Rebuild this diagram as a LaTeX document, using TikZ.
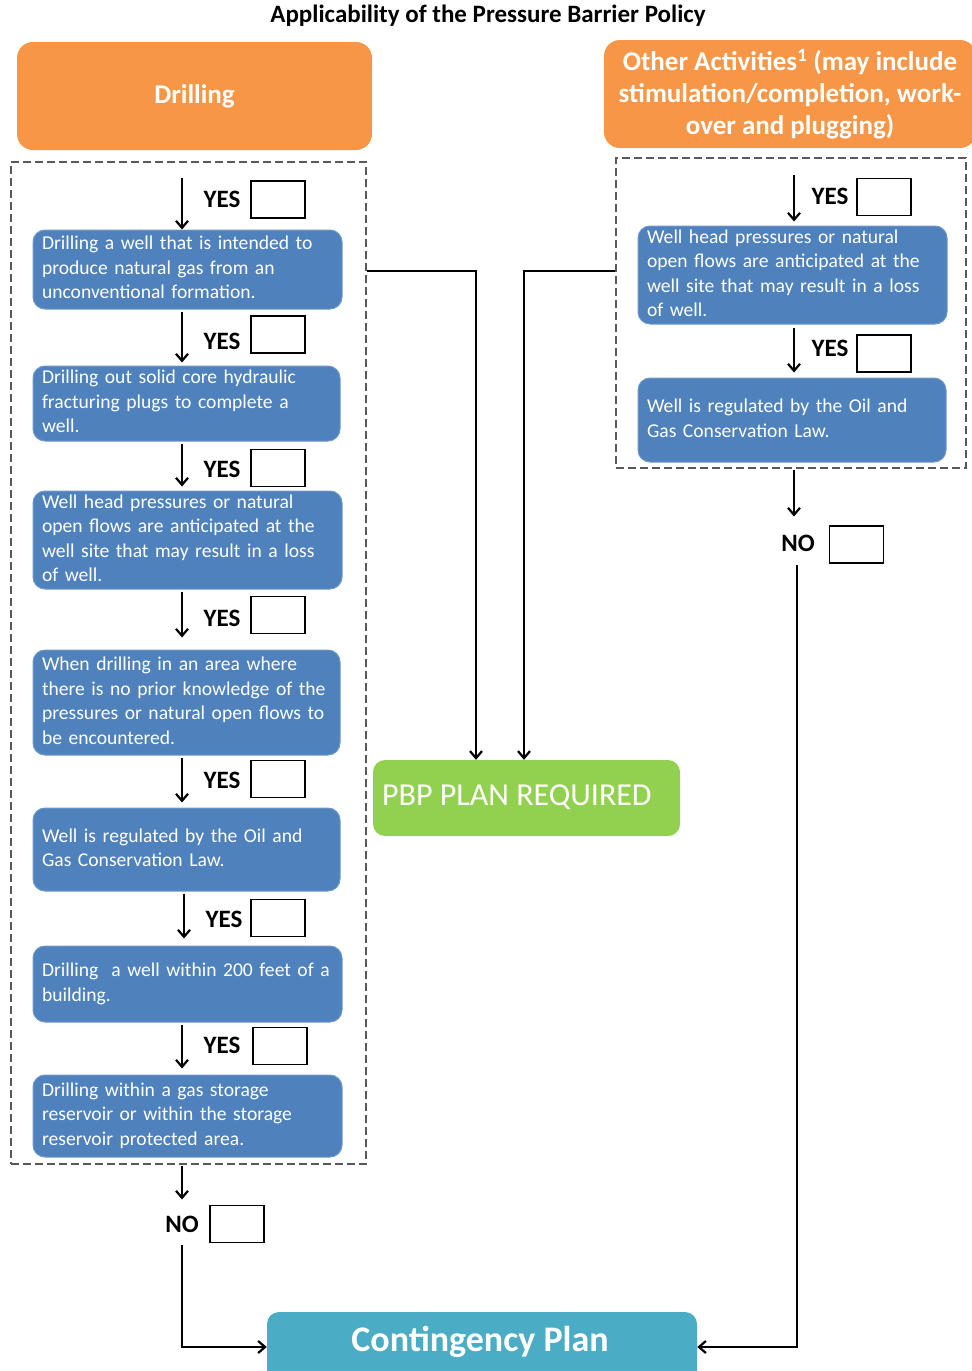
\documentclass[tikz,border=0pt]{standalone}
\usepackage{fontspec}
\setmainfont{Carlito}
\usetikzlibrary{arrows.meta}
\definecolor{orng}{HTML}{F79646}
\definecolor{bluefill}{HTML}{4F81BD}
\definecolor{blueedge}{HTML}{6E97CA}
\definecolor{grn}{HTML}{92D050}
\definecolor{teal}{HTML}{4BACC6}
\definecolor{dashgray}{HTML}{595959}
\newcommand\bxlines[1]{\begin{tabular}{@{}l@{}}#1\end{tabular}}
\begin{document}
\begin{tikzpicture}[x=1pt,y=-1pt,
  bluebox/.style={fill=bluefill, draw=blueedge, line width=1pt, rounded corners=12pt, text=white,
    font=\fontsize{19.6}{24.5}\selectfont, align=left, inner xsep=9pt, inner ysep=0pt},
  orbox/.style={fill=orng, draw=none, rounded corners=16pt, text=white, align=center,
    font=\fontsize{27}{32}\selectfont\bfseries, inner sep=0pt},
  yeslbl/.style={font=\fontsize{25}{28}\selectfont\bfseries, inner sep=0pt},
  chk/.style={draw=black, line width=1.2pt, minimum width=54pt, minimum height=37pt, inner sep=0pt},
  dashbox/.style={draw=dashgray, line width=2pt, dash pattern=on 8pt off 4pt, inner sep=0pt},
  arr/.style={line width=2.4pt, -{Straight Barb[length=7pt,width=12pt,line width=2.2pt]}},
]
\useasboundingbox (0,0) rectangle (972,1371);

% title
\node[font=\fontsize{25}{28}\selectfont\bfseries, inner sep=0pt] (title) at (488,16) {Applicability of the Pressure Barrier Policy};

% headers
\node[orbox, minimum width=355pt, minimum height=108pt] (drill) at (194.5,96) {Drilling};
\node[orbox, minimum width=372pt, minimum height=108pt] (other) at (790,94) {Other Activities\textsuperscript{1} (may include\\stimulation/completion, work-\\over and plugging)};

% dashed frames
\node[dashbox, minimum width=355pt, minimum height=1002pt] (ldash) at (188.5,663) {};
\node[dashbox, minimum width=350pt, minimum height=310pt] (rdash) at (791,313) {};

% left blue boxes
\node[bluebox, text width=291pt, minimum height=79pt] (b1) at (187.5,269.5) {\bxlines{Drilling a well that is intended to\\produce natural gas from an\\unconventional formation.}};
\node[bluebox, text width=289pt, minimum height=75pt] (b2) at (186.5,403.5) {\bxlines{Drilling out solid core hydraulic\\fracturing plugs to complete a\\well.}};
\node[bluebox, text width=291pt, minimum height=96pt] (b3) at (187.5,540) {\bxlines{Well head pressures or natural\\open flows are anticipated at the\\well site that may result in a loss\\of well.}};
\node[bluebox, text width=289pt, minimum height=105pt] (b4) at (186.5,702.5) {\bxlines{When drilling in an area where\\there is no prior knowledge of the\\pressures or natural open flows to\\be encountered.}};
\node[bluebox, text width=289pt, minimum height=83pt] (b5) at (186.5,849.5) {\bxlines{Well is regulated by the Oil and\\Gas Conservation Law.}};
\node[bluebox, text width=291pt, minimum height=76pt] (b6) at (187.5,984) {\bxlines{Drilling\ \ a well within 200 feet of a\\building.}};
\node[bluebox, text width=291pt, minimum height=82pt] (b7) at (187.5,1116) {\bxlines{Drilling within a gas storage\\reservoir or within the storage\\reservoir protected area.}};

% right blue boxes
\node[bluebox, text width=291pt, minimum height=96pt] (r1) at (792.5,275) {\bxlines{Well head pressures or natural\\open flows are anticipated at the\\well site that may result in a loss\\of well.}};
\node[bluebox, text width=290pt, minimum height=84pt] (r2) at (792,420) {\bxlines{Well is regulated by the Oil and\\Gas Conservation Law.}};

% outcome boxes
\node[fill=grn, draw=none, rounded corners=12pt, minimum width=307pt, minimum height=76pt, inner sep=0pt] (green) at (526.5,798) {};
\node[text=white, font=\fontsize{32}{36}\selectfont, anchor=west, inner sep=0pt] (greentxt) at (382,797) {PBP PLAN REQUIRED};
\node[fill=teal, draw=none, rounded corners=12pt, minimum width=430pt, minimum height=70pt, inner sep=0pt] (cont) at (482,1347) {};
\node[text=white, font=\fontsize{36}{40}\selectfont\bfseries, inner sep=0pt] (conttxt) at (480,1342) {Contingency Plan};

% x positions of vertical arrows
\coordinate (lx) at (182,0);
\coordinate (lx2) at (184,0);
\coordinate (rx) at (794,0);

% YES labels and check boxes (left)
\node[yeslbl] (y0) at (222,199) {YES};  \node[chk] (c0) at (278,199.5) {};
\node[yeslbl] (y1) at (222,341) {YES};  \node[chk] (c1) at (278,334.5) {};
\node[yeslbl] (y2) at (222,469) {YES};  \node[chk] (c2) at (278,468) {};
\node[yeslbl] (y3) at (222,618) {YES};  \node[chk] (c3) at (278,615) {};
\node[yeslbl] (y4) at (222,780) {YES};  \node[chk] (c4) at (278,779) {};
\node[yeslbl] (y5) at (224,919) {YES};  \node[chk] (c5) at (278,918) {};
\node[yeslbl] (y6) at (222,1045) {YES}; \node[chk] (c6) at (280,1046) {};
\node[yeslbl] (noL) at (182,1224) {NO}; \node[chk] (cnL) at (237,1224) {};

% YES labels and check boxes (right)
\node[yeslbl] (ry0) at (830,196) {YES}; \node[chk] (rc0) at (884,197) {};
\node[yeslbl] (ry1) at (830,348) {YES}; \node[chk] (rc1) at (884,353.5) {};
\node[yeslbl] (noR) at (798,543) {NO};  \node[chk] (cnR) at (856.5,544.5) {};

% arrows left column
\coordinate (s0) at (182,178);
\draw[arr] (s0) -- (b1.north -| lx);
\draw[arr, shorten <=2pt, shorten >=3pt] (b1.south -| lx) -- (b2.north -| lx);
\draw[arr, shorten <=2pt, shorten >=4pt] (b2.south -| lx) -- (b3.north -| lx);
\draw[arr, shorten <=2pt, shorten >=12pt] (b3.south -| lx) -- (b4.north -| lx);
\draw[arr, shorten <=2pt, shorten >=5pt] (b4.south -| lx) -- (b5.north -| lx);
\draw[arr, shorten <=2pt, shorten >=7pt] (b5.south -| lx2) -- (b6.north -| lx2);
\draw[arr, shorten <=2pt, shorten >=6pt] (b6.south -| lx) -- (b7.north -| lx);
\draw[arr, shorten <=1pt, shorten >=16pt] (ldash.south -| lx) -- (noL.north);
\coordinate (ld) at (182,1245);
\draw[arr] (ld) |- (cont.west);

% arrows right column
\coordinate (rs0) at (794,175);
\draw[arr, shorten >=4pt] (rs0) -- (r1.north -| rx);
\draw[arr, shorten <=3pt, shorten >=5pt] (r1.south -| rx) -- (r2.north -| rx);
\draw[arr, shorten <=1pt, shorten >=18pt] (rdash.south -| rx) -- (noR.north -| rx);
\coordinate (rdown) at (797,565);
\draw[arr] (rdown) |- (cont.east);

% connectors to PBP
\coordinate (lc) at (366,271);
\coordinate (rc) at (616,271);
\draw[arr] (ldash.east |- lc) -| ([xshift=-50.5pt]green.north);
\draw[arr] (rdash.west |- rc) -| ([xshift=-2.5pt]green.north);
\end{tikzpicture}
\end{document}
